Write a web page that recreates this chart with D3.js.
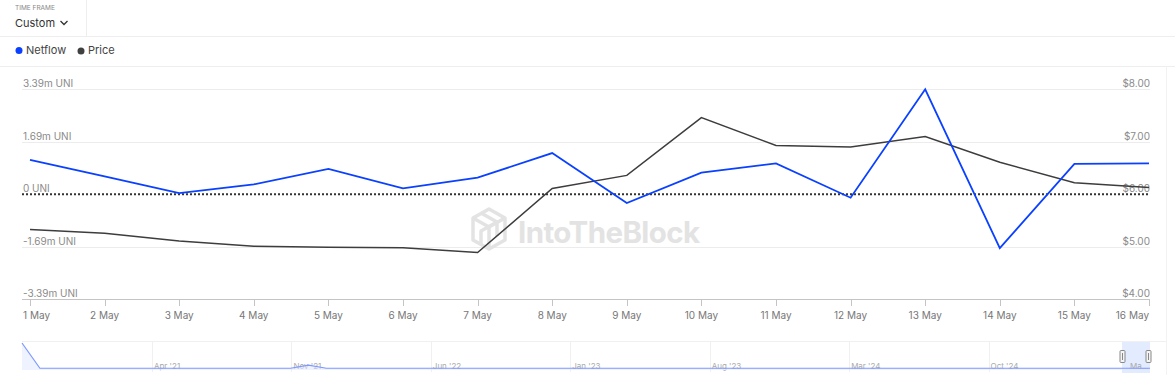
<!DOCTYPE html>
<html><head><meta charset="utf-8">
<script src="https://cdn.jsdelivr.net/npm/d3@7"></script>
<style>
html,body{margin:0;padding:0;background:#fff;}
body{width:1175px;height:375px;overflow:hidden;font-family:Inter,"Noto Sans",sans-serif;}
</style></head>
<body>
<svg id="c" width="1175" height="375"></svg>
<script>
const dates = ["1 May","2 May","3 May","4 May","5 May","6 May","7 May","8 May","9 May","10 May","11 May","12 May","13 May","14 May","15 May","16 May"];
const netflow = [1.11,0.58,0.04,0.32,0.82,0.19,0.54,1.33,-0.28,0.70,1.00,-0.11,3.39,-1.74,0.98,1.00];
const price = [5.33,5.26,5.11,5.01,4.99,4.98,4.89,6.11,6.36,7.46,6.93,6.90,7.10,6.61,6.22,6.13];
const leftTicks = [3.39,1.69,0,-1.69,-3.39];
const leftTickLabels = ["3.39m UNI","1.69m UNI","0 UNI","-1.69m UNI","-3.39m UNI"];
const rightTicks = [8,7,6,5,4];
const navLabels = ["Apr '21","Nov '21","Jun '22","Jan '23","Aug '23","Mar '24","Oct '24","Ma..."];
const navSeries = [10.5,0.3,0.3,0.3,0.3,0.3,0.3,0.3,0.3,0.3,0.3,0.3,0.3,0.3,0.3,0.3,1.6,0.3,0.3,0.3,0.3,0.3,0.3,0.3,0.3,0.3,0.3,0.3,0.3,0.3,0.3,0.3,0.3,0.3,0.3,0.3,0.3,0.3,0.3,0.3,0.3,0.3,0.3,0.3,0.3,0.3,0.3,0.3,0.3,0.3,0.3,0.3,0.3,0.3,0.3,0.3,0.3,0.3,0.3,0.3,0.3,0.3,0.3,0.3];

const svg = d3.select("#c");
const gray = "#8a8a8a";

// header
svg.append("text").attr("x",15).attr("y",10).attr("font-size",6.5).attr("fill","#888").text("TIME FRAME");
svg.append("text").attr("x",15).attr("y",27).attr("font-size",11).attr("fill","#333").text("Custom");
svg.append("path").attr("d","M60.5,21 L64,24.5 L67.5,21").attr("fill","none").attr("stroke","#333").attr("stroke-width",1.3);
svg.append("line").attr("x1",86.5).attr("x2",86.5).attr("y1",0).attr("y2",36).attr("stroke","#eee");
svg.append("line").attr("x1",0).attr("x2",1175).attr("y1",36.5).attr("y2",36.5).attr("stroke","#eee");
svg.append("line").attr("x1",0).attr("x2",1175).attr("y1",66.5).attr("y2",66.5).attr("stroke","#eee");

// legend
svg.append("circle").attr("cx",19).attr("cy",50.5).attr("r",3.5).attr("fill","#0a40ff");
svg.append("text").attr("x",26).attr("y",54).attr("font-size",11).attr("fill","#444").text("Netflow");
svg.append("circle").attr("cx",81).attr("cy",51).attr("r",3.5).attr("fill","#404040");
svg.append("text").attr("x",88).attr("y",54).attr("font-size",11).attr("fill","#444").text("Price");

// scales
const x = d3.scalePoint().domain(dates).range([30,1149]);
const yL = d3.scaleLinear().domain([-3.39,3.39]).range([299.3,89.3]);
const yR = d3.scaleLinear().domain([4,8]).range([299.3,89.3]);
const gx0 = 22, gx1 = 1150;

// gridlines
svg.append("g").selectAll("line").data(leftTicks.filter(d=>d!==0 && d!==-3.39)).join("line")
  .attr("x1",gx0).attr("x2",gx1).attr("y1",d=>Math.round(yL(d))+0.5).attr("y2",d=>Math.round(yL(d))+0.5)
  .attr("stroke","#ececec");

// watermark
const wm = svg.append("g").attr("fill","none").attr("stroke","#e3e3e3").attr("stroke-width",3.5).attr("stroke-linejoin","round");
wm.append("path").attr("d","M489,209 L505,218 L505,240 L489,249 L473,240 L473,218 Z");
wm.append("path").attr("d","M473,218 L489,227 L505,218 M489,227 L489,249 M481,213 L497,222 L497,236 M481,245 L481,231 L497,222");
svg.append("text").attr("x",518).attr("y",243).attr("font-size",29.5).attr("font-weight",700).attr("fill","#e3e3e3").attr("letter-spacing",-0.6).text("IntoTheBlock");

// left axis labels
svg.append("g").selectAll("text").data(leftTicks).join("text")
  .attr("x",23).attr("y",d=>yL(d)-2).attr("font-size",10).attr("fill",gray)
  .text((d,i)=>leftTickLabels[i]);
// right axis labels
svg.append("g").selectAll("text").data(rightTicks).join("text")
  .attr("x",1150).attr("y",d=>yR(d)-2).attr("font-size",10).attr("fill",gray).attr("text-anchor","end")
  .text(d=>"$"+d.toFixed(2));

// x axis
const xa = svg.append("g");
xa.append("line").attr("x1",gx0).attr("x2",gx1).attr("y1",299.5).attr("y2",299.5).attr("stroke","#c4c4c4");
xa.selectAll("line.t").data(dates).join("line").attr("class","t")
  .attr("x1",d=>Math.round(x(d))+0.5).attr("x2",d=>Math.round(x(d))+0.5).attr("y1",299).attr("y2",306).attr("stroke","#c4c4c4");
xa.selectAll("text").data(dates).join("text")
  .attr("x",(d,i)=> i===0 ? 23 : x(d))
  .attr("y",319).attr("font-size",10).attr("fill","#777")
  .attr("text-anchor",(d,i)=> i===0 ? "start" : (i===dates.length-1 ? "end" : "middle"))
  .text(d=>d);

// zero line
svg.append("line").attr("x1",gx0).attr("x2",gx1).attr("y1",yL(0)).attr("y2",yL(0))
  .attr("stroke","#333").attr("stroke-width",2).attr("stroke-dasharray","2,2");

// lines
svg.append("path").datum(price).attr("fill","none").attr("stroke","#3d3d3d").attr("stroke-width",1.5)
  .attr("d",d3.line().x((d,i)=>x(dates[i])).y(d=>yR(d)));
svg.append("path").datum(netflow).attr("fill","none").attr("stroke","#0a40ff").attr("stroke-width",1.8)
  .attr("d",d3.line().x((d,i)=>x(dates[i])).y(d=>yL(d)));

// navigator
const nav = svg.append("g");
nav.append("line").attr("x1",22).attr("x2",1166).attr("y1",341.5).attr("y2",341.5).attr("stroke","#f0f0f0");
const navX = d3.scaleLinear().domain([0,navLabels.length]).range([12.5,1128]);
nav.selectAll("line.g").data(navLabels).join("line").attr("class","g")
  .attr("x1",(d,i)=>Math.round(navX(i+1))+0.5).attr("x2",(d,i)=>Math.round(navX(i+1))+0.5)
  .attr("y1",342).attr("y2",372).attr("stroke","#f0f0f0");
nav.append("rect").attr("x",1122).attr("y",342).attr("width",28).attr("height",31).attr("fill","#e3ebff");
nav.selectAll("text").data(navLabels).join("text")
  .attr("x",(d,i)=>navX(i+1)+2).attr("y",369).attr("font-size",8).attr("fill","#aaa").text(d=>d);
const nx = d3.scaleLinear().domain([0,navSeries.length-1]).range([22,1150]);
const ny = d3.scaleLinear().domain([0,10.5]).range([369,343]);
nav.append("path").datum(navSeries).attr("fill","#dfe6ff").attr("fill-opacity",0.5)
  .attr("d",d3.area().x((d,i)=>nx(i)).y0(370).y1(d=>ny(d)));
nav.append("path").datum(navSeries).attr("fill","none").attr("stroke","#7d98ff").attr("stroke-width",1.2)
  .attr("d",d3.line().x((d,i)=>nx(i)).y(d=>ny(d)));
[1122,1148].forEach(hx=>{
  nav.append("rect").attr("x",hx-2.5+0.5).attr("y",350.5).attr("width",5).attr("height",12).attr("fill","#f4f4f4").attr("stroke","#888").attr("rx",1);
  nav.append("line").attr("x1",hx+0.5).attr("x2",hx+0.5).attr("y1",353).attr("y2",360).attr("stroke","#888");
});
svg.append("line").attr("x1",1166.5).attr("x2",1166.5).attr("y1",66).attr("y2",375).attr("stroke","#f2f2f2");
</script>
</body></html>
